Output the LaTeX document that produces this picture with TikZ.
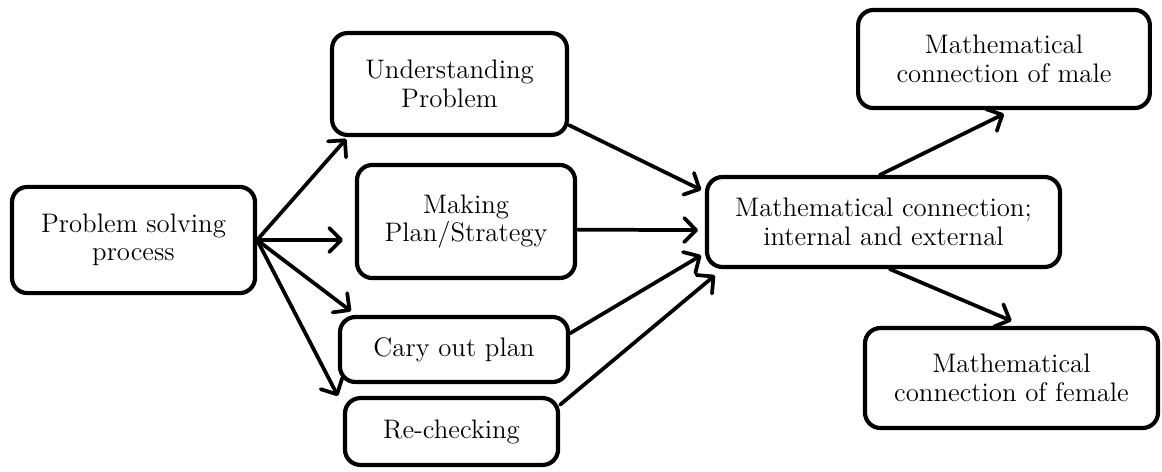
\documentclass[tikz,border=0pt]{standalone}
\usepackage{amsmath}
\usepackage{tikz}
\usetikzlibrary{arrows.meta}

\begin{document}
\begin{tikzpicture}[x=0.016cm, y=-0.016cm,
    box/.style={draw, line width=1.9pt, rounded corners=7pt, align=center, inner sep=2pt,
        font=\fontsize{12.2}{13}\selectfont},
    arr/.style={line width=1.7pt, line cap=round, -{Straight Barb[length=5.5pt, width=11pt, line cap=round, line join=round]}}]
    \useasboundingbox (0,0) rectangle (1162,471);

    \node[box, minimum width=3.89cm, minimum height=1.70cm] (solve) at (133.5, 240) {Problem solving\\process};
    \node[box, minimum width=3.76cm, minimum height=1.63cm] (understand) at (449.5, 84) {Understanding\\Problem};
    \node[box, minimum width=3.49cm, minimum height=1.81cm] (plan) at (466, 221.5) {Making\\Plan/Strategy};
    \node[box, minimum width=3.65cm, minimum height=1.04cm] (carry) at (454, 349.5) {Cary out plan};
    \node[box, minimum width=3.41cm, minimum height=1.07cm] (recheck) at (451.5, 431.5) {Re-checking};
    \node[box, minimum width=5.65cm, minimum height=1.44cm] (conn) at (883.5, 222) {Mathematical connection;\\internal and external};
    \node[box, minimum width=4.67cm, minimum height=1.57cm] (male) at (1004, 59) {Mathematical\\connection of male};
    \node[box, minimum width=4.69cm, minimum height=1.60cm] (female) at (1011.5, 378) {Mathematical\\connection of female};

    \draw[arr] (solve.east) -- ([shift={(0.26cm,-0.03cm)}]understand.south west);
    \draw[arr, shorten >=0.19cm] (solve.east) -- (plan.west |- solve.east);
    \draw[arr] (solve.east) -- ([shift={(0.21cm,0.06cm)}]carry.north west);
    \draw[arr] (solve.east) -- ([xshift=-0.08cm]recheck.north west);

    \draw[arr] ([yshift=0.19cm]understand.south east) -- ([shift={(-0.06cm,-0.24cm)}]conn.north west);
    \draw[arr] ([yshift=-0.13cm]plan.east) -- ([shift={(-0.11cm,-0.13cm)}]conn.west);
    \draw[arr] ([yshift=0.26cm]carry.east) -- ([shift={(-0.06cm,0.22cm)}]conn.south west);
    \draw[arr] ([yshift=-0.14cm]recheck.north east) -- ([shift={(0.16cm,-0.1cm)}]conn.south west);

    \draw[arr] ([xshift=-0.06cm]conn.north) -- ([yshift=-0.06cm]male.south);
    \draw[arr] ([xshift=0.1cm]conn.south) -- ([yshift=0.08cm]female.north);
\end{tikzpicture}
\end{document}
